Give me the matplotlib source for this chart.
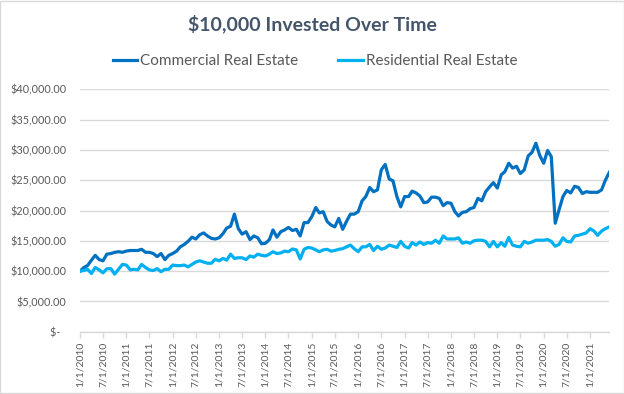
import pandas as pd
import matplotlib
matplotlib.use("Agg")
import matplotlib.pyplot as plt
import matplotlib.dates as mdates
from matplotlib.ticker import FuncFormatter, FixedLocator
from matplotlib.patches import Rectangle

# monthly values, 1/1/2010 .. 6/1/2021 (in $)
dates = pd.date_range("2010-01-01", "2021-06-01", freq="MS")

commercial = [
    10.0, 10.6, 10.9, 11.8, 12.6, 11.9, 11.7, 12.8, 12.9, 13.1, 13.2, 13.1,
    13.3, 13.4, 13.4, 13.4, 13.6, 13.1, 13.1, 12.9, 12.4, 12.9, 11.9, 12.6,
    12.9, 13.3, 14.0, 14.4, 14.9, 15.6, 15.3, 16.0, 16.3, 15.8, 15.4, 15.3,
    15.5, 16.2, 17.1, 17.4, 19.4, 17.0, 16.1, 16.5, 15.2, 15.8, 15.5, 14.5,
    14.6, 15.2, 16.8, 15.6, 16.5, 16.8, 17.2, 16.7, 16.9, 15.8, 18.0, 18.0,
    19.0, 20.5, 19.6, 19.8, 18.2, 17.6, 17.3, 18.7, 16.9, 18.2, 19.4, 19.4,
    19.8, 21.6, 22.3, 23.8, 23.1, 23.4, 26.7, 27.6, 25.2, 24.9, 22.3, 20.6,
    22.3, 22.3, 23.2, 22.9, 22.4, 21.3, 21.4, 22.2, 22.2, 22.0, 20.8, 21.3,
    21.2, 19.8, 19.1, 19.7, 19.8, 20.3, 20.5, 22.0, 21.6, 23.1, 23.9, 24.6,
    23.7, 25.9, 26.4, 27.8, 27.0, 27.3, 26.1, 26.7, 29.0, 29.6, 31.1, 29.1,
    27.8, 29.9, 28.9, 17.9, 20.1, 22.3, 23.3, 22.9, 24.0, 23.8, 22.8, 23.1,
    23.0, 23.0, 23.0, 23.4, 25.0, 26.3,
]
residential = [
    10.0, 10.1, 10.3, 9.6, 10.6, 10.2, 9.7, 10.4, 10.4, 9.5, 10.3, 11.1,
    11.0, 10.2, 10.3, 10.2, 11.1, 10.6, 10.2, 10.1, 10.4, 9.9, 10.3, 10.3,
    11.0, 10.9, 10.9, 11.0, 10.7, 11.1, 11.5, 11.7, 11.5, 11.3, 11.3, 11.95,
    11.7, 12.1, 11.8, 12.8, 12.1, 12.2, 12.2, 11.9, 12.5, 12.3, 12.8, 12.6,
    12.5, 12.8, 13.2, 12.9, 13.0, 13.3, 13.2, 13.65, 13.5, 12.0, 13.6, 13.9,
    13.8, 13.5, 13.2, 13.5, 13.6, 13.3, 13.4, 13.6, 13.7, 14.0, 14.3, 13.7,
    13.2, 14.0, 14.0, 14.4, 13.4, 14.1, 13.6, 13.8, 14.3, 14.1, 13.9, 14.9,
    14.1, 13.8, 14.7, 14.3, 14.8, 14.4, 14.7, 14.6, 15.1, 14.6, 15.8, 15.3,
    15.3, 15.3, 15.5, 14.6, 14.8, 14.6, 15.0, 15.1, 15.1, 14.9, 14.0, 14.9,
    14.0, 14.7, 14.1, 15.55, 14.3, 14.1, 14.0, 14.9, 14.6, 14.8, 15.1, 15.1,
    15.1, 15.2, 14.9, 14.1, 14.4, 15.5, 14.9, 14.8, 15.8, 15.9, 16.1, 16.3,
    17.0, 16.6, 15.9, 16.6, 17.0, 17.3,
]
commercial = [v * 1000 for v in commercial]
residential = [v * 1000 for v in residential]

series_names = ["Commercial Real Estate", "Residential Real Estate"]
series_colors = ["#0070C0", "#00B0F0"]
yticks = list(range(0, 40001, 5000))
xtick_dates = [pd.Timestamp(y, m, 1) for y in range(2010, 2022) for m in (1, 7)
               if pd.Timestamp(y, m, 1) <= dates[-1]]

plt.rcParams['font.family'] = ['Lato', 'DejaVu Sans']
txt_color = "#595959"
grid_color = "#D9D9D9"

fig = plt.figure(figsize=(6.24, 3.94), dpi=100)
ax = fig.add_axes([80 / 624, 1 - 331.7 / 394, (609.3 - 80) / 624, (331.7 - 89.3) / 394])

# chart border
fig.patches.append(Rectangle((0.0008, 0.0013), 0.9984, 0.9974, transform=fig.transFigure,
                             fill=False, edgecolor=grid_color, linewidth=1.0))

ax.plot(dates, commercial, color=series_colors[0], lw=2.3, label=series_names[0],
        solid_joinstyle='round', zorder=3)
ax.plot(dates, residential, color=series_colors[1], lw=2.3, label=series_names[1],
        solid_joinstyle='round', zorder=3)

ax.set_ylim(0, 40000)
ax.set_xlim(dates[0], dates[-1])
ax.yaxis.set_major_locator(FixedLocator(yticks))
ax.yaxis.set_major_formatter(FuncFormatter(lambda v, p: "$-  " if v == 0 else f"${v:,.2f}"))
ax.grid(axis='y', color=grid_color, lw=1.0)
ax.set_axisbelow(True)

ax.xaxis.set_major_locator(FixedLocator(mdates.date2num(xtick_dates)))
ax.set_xticklabels([f"{d.month}/{d.day}/{d.year}" for d in xtick_dates], rotation=90)

for s in ['top', 'right', 'left']:
    ax.spines[s].set_visible(False)
ax.spines['bottom'].set_color(grid_color)
ax.spines['bottom'].set_linewidth(1.0)
ax.tick_params(axis='y', length=0, pad=10, labelsize=7.8, labelcolor=txt_color)
ax.tick_params(axis='x', length=4.5, width=1.0, color=grid_color, pad=3,
               labelsize=7.5, labelcolor=txt_color)

fig.text(0.5, 1 - 24 / 394, "$10,000 Invested Over Time", ha='center', va='center',
         fontsize=14, fontweight='bold', color="#44546A")
fig.legend(loc='center', bbox_to_anchor=(0.505, 1 - 61 / 394), ncol=2, frameon=False,
           fontsize=11, labelcolor=txt_color, handlelength=1.6, handletextpad=0.2,
           columnspacing=2.6)

fig.savefig("out.png", dpi=100)
